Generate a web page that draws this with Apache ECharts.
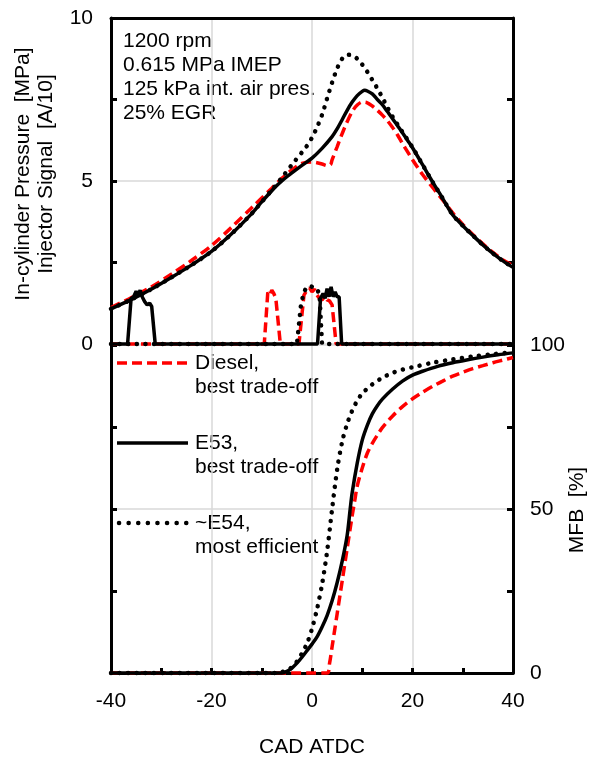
<!DOCTYPE html>
<html>
<head>
<meta charset="utf-8">
<script src="https://cdn.jsdelivr.net/npm/echarts@6/dist/echarts.min.js"></script>
<style>
html,body{margin:0;padding:0;background:#fff;}
#chart{width:604px;height:758px;}
</style>
</head>
<body>
<div id="chart"></div>
<script>
// ---------- DATA ----------
// In-cylinder pressure [MPa]
var cadP_diesel = [-40,-36,-32,-28,-24,-20,-16,-12,-8,-6,-4,-2,0,1,2,3,3.7,4,5,6,7,8,9,10,11,12,13,14,15,16,17,18,19,20,21,22,24,26,28,30,32,34,36,38,40];
var p_diesel    = [1.12,1.42,1.75,2.14,2.56,3.02,3.58,4.18,4.78,5.08,5.34,5.54,5.58,5.56,5.52,5.47,5.5,5.65,6.05,6.45,6.82,7.13,7.33,7.42,7.4,7.3,7.17,7.02,6.85,6.65,6.42,6.15,5.9,5.65,5.42,5.2,4.8,4.42,4.02,3.67,3.36,3.07,2.81,2.58,2.4];

var cadP_e53 = [-40,-36,-32,-28,-24,-20,-16,-12,-10,-8,-7,-6,-5,-4,-2,0,2,4,5,6,7,8,9,10,10.5,11,12,13,14,15,16,17,18,19,20,22,23,24,25,26,27,28,30,32,34,36,38,40];
var p_e53    = [1.08,1.36,1.68,2.04,2.42,2.84,3.38,4.0,4.36,4.7,4.86,5.0,5.13,5.25,5.48,5.7,6.0,6.36,6.6,6.88,7.17,7.42,7.62,7.75,7.78,7.76,7.67,7.5,7.34,7.13,6.92,6.7,6.48,6.25,6.02,5.5,5.23,4.97,4.72,4.47,4.2,3.96,3.63,3.33,3.04,2.78,2.55,2.35];

var cadP_e54 = [-40,-36,-32,-28,-24,-20,-16,-12,-10,-8,-6,-4,-2,-1,0,1,2,3,4,5,6,7,8,9,10,11,12,13,14,15,16,18,20,22,24,26,28,30,32,34,36,38,40];
var p_e54    = [1.08,1.36,1.68,2.04,2.42,2.84,3.38,4.0,4.36,4.72,5.1,5.5,5.88,6.08,6.33,6.65,7.03,7.53,8.02,8.45,8.75,8.87,8.86,8.75,8.57,8.35,8.1,7.84,7.56,7.26,6.98,6.5,6.03,5.5,4.97,4.47,3.96,3.63,3.33,3.04,2.78,2.55,2.35];

// Injector signal [A/10]
var cadInj_diesel = [-40,-9.5,-8.8,-8.4,-8.0,-7.6,-7.2,-6.3,-2.6,-1.6,-1.0,-0.5,0,0.5,1.0,1.5,2.0,2.5,3.0,3.5,4.0,4.8,40];
var inj_diesel    = [0,0,1.58,1.5,1.65,1.55,1.4,0,0,1.5,1.65,1.72,1.6,1.68,1.5,1.4,1.35,1.45,1.35,1.32,1.2,0,0];

var cadInj_e53 = [-40,-36.7,-36.0,-35.5,-35.0,-34.6,-34.2,-33.8,-33.3,-32.8,-32.3,-31.9,-31.2,1.1,1.7,2.2,2.6,3.0,3.4,3.8,4.2,4.6,5.0,5.4,5.9,40];
var inj_e53    = [0,0,1.4,1.45,1.62,1.5,1.65,1.45,1.3,1.2,1.25,1.15,0,0,1.4,1.55,1.4,1.7,1.45,1.75,1.45,1.6,1.45,1.45,0,0];

var cadInj_e54 = [-40,-3.0,-2.2,-1.6,-1.0,-0.3,0.4,1.0,1.5,2.0,40];
var inj_e54    = [0,0,1.2,1.6,1.75,1.78,1.72,1.7,1.5,0,0];

// Mass fraction burned [%]
var cadMfb_diesel = [-40,3,3.5,4,4.5,5,6,7,8,8.5,9,10,11,12,13,14,16,18,20,22,24,26,28,30,32,34,36,38,40];
var mfb_diesel    = [0,0,3,8,13,18,28,38,48,52.5,57,62.5,67,70,72.5,74.8,78.3,81.2,83.6,85.6,87.4,89,90.5,91.7,92.8,93.7,94.6,95.4,96.2];

var cadMfb_e53 = [-40,-6,-5,-4,-3,-2,-1,0,1,2,3,4,5,6,7,7.6,8,9,10,11,12,13,14,16,18,20,22,25,28,31,34,37,40];
var mfb_e53    = [0,0,0.5,1.5,3,4.8,6.8,8.8,11,14,17.5,22,27.5,34,42,50,55,64,71,75.5,79,81.5,83.5,86.5,89,90.8,92,93.5,94.6,95.5,96.3,97,97.6];

var cadMfb_e54 = [-40,-7,-6,-5,-4,-3,-2,-1,0,1,2,3,4,5,6,7,8,9,10,12,14,16,18,20,24,28,32,36,40];
var mfb_e54    = [0,0,0.3,0.8,1.8,3.5,6,9,13.5,19.5,27,37,50,62,70.5,76,80,83,85.2,88,90,91.5,92.5,93.2,94.6,95.6,96.5,97.2,97.8];

var xTicks = [-40, -20, 0, 20, 40];
var annotation = ['1200 rpm', '0.615 MPa IMEP', '125 kPa int. air pres.', '25% EGR'];
var legendNames = ['Diesel,\nbest trade-off', 'E53,\nbest trade-off', '~E54,\nmost efficient'];

// ---------- CHART ----------
function pairs(xs, ys){ return xs.map(function(x,i){ return [x, ys[i]]; }); }
var FONT = "'Liberation Sans', Arial, sans-serif";
var FS = 21;
var GRIDC = '#d9d9d9';

var styleDiesel = {color:'#ff0000', width:3.5, type:[10,5]};
var styleE53 = {color:'#000', width:3.5, type:'solid'};
var styleE54 = {color:'#000', width:4.5, type:[0.1,8.5], cap:'round'};

function mkSeries(xs, ys, ls, xi, yi, smooth){
  return {type:'line', xAxisIndex:xi, yAxisIndex:yi, data:pairs(xs,ys), showSymbol:false, symbol:'none',
    clip:false, smooth: smooth ? 0.3 : false,
    lineStyle:ls, animation:false};
}

function yAx(grid, pos, max, interval, labels){
  return {type:'value', gridIndex:grid, position:pos, min:0, max:max, interval:interval,
    axisLine:{show:true, onZero:false, lineStyle:{color:'#000', width:3}},
    axisTick:{show:true, inside:true, length:6, lineStyle:{color:'#000', width:3}},
    minorTick:{show:true, splitNumber:2, length:6, lineStyle:{color:'#000', width:3}},
    splitLine:{show: pos==='left', lineStyle:{color:GRIDC, width:1.5}},
    axisLabel:{show:labels, color:'#000', fontSize:FS, fontFamily:FONT, margin:pos==='left'?18:17}};
}

var option = {
  animation:false,
  backgroundColor:'#fff',
  grid:[
    {left:111, right:91, top:18, height:326},
    {left:111, right:91, top:345, height:328}
  ],
  xAxis:[
    {type:'value', gridIndex:0, position:'top', min:-40, max:40, interval:20,
      axisLine:{show:true, onZero:false, lineStyle:{color:'#000', width:3}},
      axisTick:{show:false}, axisLabel:{show:false},
      splitLine:{show:true, lineStyle:{color:GRIDC, width:1.5}}},
    {type:'value', gridIndex:1, position:'bottom', min:-40, max:40, interval:20,
      axisLine:{show:true, onZero:false, lineStyle:{color:'#000', width:3}},
      axisTick:{show:true, inside:true, length:5, lineStyle:{color:'#000', width:3}},
      minorTick:{show:true, splitNumber:2, length:5, lineStyle:{color:'#000', width:3}},
      splitLine:{show:true, lineStyle:{color:GRIDC, width:1.5}},
      axisLabel:{color:'#000', fontSize:FS, fontFamily:FONT, margin:18,
        customValues: xTicks}}
  ],
  yAxis:[
    yAx(0,'left',10,5,true),
    yAx(0,'right',10,5,false),
    yAx(1,'left',100,50,false),
    yAx(1,'right',100,50,true)
  ],
  series:[
    mkSeries(cadInj_diesel, inj_diesel, styleDiesel, 0, 0, false),
    mkSeries(cadP_diesel, p_diesel, styleDiesel, 0, 0, true),
    mkSeries(cadMfb_diesel, mfb_diesel, styleDiesel, 1, 2, true),
    mkSeries(cadInj_e53, inj_e53, styleE53, 0, 0, false),
    mkSeries(cadP_e53, p_e53, styleE53, 0, 0, true),
    mkSeries(cadMfb_e53, mfb_e53, styleE53, 1, 2, true),
    mkSeries(cadInj_e54, inj_e54, styleE54, 0, 0, false),
    mkSeries(cadP_e54, p_e54, styleE54, 0, 0, true),
    mkSeries(cadMfb_e54, mfb_e54, styleE54, 1, 2, true)
  ],
  graphic:[
    {type:'text', left:123, top:29, silent:true,
      style:{text:annotation.join('\n'), font: FS+'px '+FONT, fill:'#000', lineHeight:24}},
    // legend
    {type:'line', shape:{x1:117,y1:363,x2:188,y2:363}, style:{stroke:'#ff0000', lineWidth:3.5, lineDash:[10,5]}},
    {type:'text', left:195, top:351, style:{text:legendNames[0], font: FS+'px '+FONT, fill:'#000', lineHeight:24}},
    {type:'line', shape:{x1:117,y1:443,x2:188,y2:443}, style:{stroke:'#000', lineWidth:3.5}},
    {type:'text', left:195, top:431, style:{text:legendNames[1], font: FS+'px '+FONT, fill:'#000', lineHeight:24}},
    {type:'line', shape:{x1:119,y1:523,x2:188,y2:523}, style:{stroke:'#000', lineWidth:4.5, lineDash:[0.1,9.5], lineCap:'round'}},
    {type:'text', left:195, top:511, style:{text:legendNames[2], font: FS+'px '+FONT, fill:'#000', lineHeight:24}},
    // axis titles
    {type:'text', x:23, y:174, rotation:Math.PI/2,
      style:{text:'In-cylinder Pressure  [MPa]', font: FS+'px '+FONT, fill:'#000', align:'center', verticalAlign:'middle'}},
    {type:'text', x:46, y:174, rotation:Math.PI/2,
      style:{text:'Injector Signal  [A/10]', font: FS+'px '+FONT, fill:'#000', align:'center', verticalAlign:'middle'}},
    {type:'text', x:577, y:510, rotation:Math.PI/2,
      style:{text:'MFB  [%]', font: FS+'px '+FONT, fill:'#000', align:'center', verticalAlign:'middle'}},
    {type:'text', x:312, y:747,
      style:{text:'CAD ATDC', font: FS+'px '+FONT, fill:'#000', align:'center', verticalAlign:'middle'}}
  ]
};
var chart = echarts.init(document.getElementById('chart'), null, {renderer:'canvas'});
chart.setOption(option);
</script>
</body>
</html>
